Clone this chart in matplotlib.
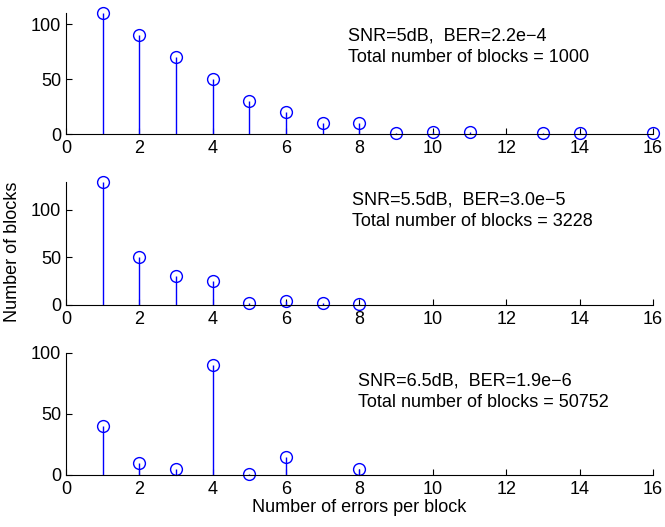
import matplotlib.pyplot as plt

plt.rcParams['font.family'] = ['Liberation Sans', 'DejaVu Sans']

# errors per block -> number of blocks, one list pair per SNR
errs_5dB = [1, 2, 3, 4, 5, 6, 7, 8, 9, 10, 11, 13, 14, 16]
blocks_5dB = [110, 90, 70, 50, 30, 20, 10, 10, 1, 2, 2, 1, 1, 1]

errs_55dB = [1, 2, 3, 4, 5, 6, 7, 8]
blocks_55dB = [129, 50, 30, 25, 2, 4, 2, 1]

errs_65dB = [1, 2, 3, 4, 5, 6, 8]
blocks_65dB = [40, 10, 5, 90, 1, 15, 5]

snr_labels = ["SNR=5dB,  BER=2.2e\u22124",
              "SNR=5.5dB,  BER=3.0e\u22125",
              "SNR=6.5dB,  BER=1.9e\u22126"]
total_labels = ["Total number of blocks = 1000",
                "Total number of blocks = 3228",
                "Total number of blocks = 50752"]
ytops = [110, 129, 100]

fig = plt.figure(figsize=(6.65, 5.27), dpi=100)
rects = [
    [0.0992, 0.7457, 0.8827, 0.2296],
    [0.0992, 0.4213, 0.8827, 0.2334],
    [0.0992, 0.0987, 0.8827, 0.2315],
]
# x, y of first line, y of second line (axes fraction)
text_pos = [(0.4804, 0.81, 0.636), (0.487, 0.854, 0.675), (0.4974, 0.77, 0.598)]
data = [(errs_5dB, blocks_5dB), (errs_55dB, blocks_55dB), (errs_65dB, blocks_65dB)]
fs = 13

for i, (x, y) in enumerate(data):
    ax = fig.add_axes(rects[i])
    ml, sl, bl = ax.stem(x, y, linefmt='b-', markerfmt='bo', basefmt=' ')
    ml.set_markerfacecolor('none')
    ml.set_markersize(8.5)
    ml.set_markeredgewidth(1)
    ml.set_clip_on(False)
    sl.set_linewidth(1)
    ax.set_xlim(0, 16)
    ax.set_ylim(0, ytops[i])
    ax.set_xticks(range(0, 17, 2))
    ax.set_yticks([0, 50, 100])
    ax.spines['top'].set_visible(False)
    ax.spines['right'].set_visible(False)
    ax.tick_params(direction='in', length=4, labelsize=fs)
    ax.tick_params(axis='x', pad=4)
    tx, ty1, ty2 = text_pos[i]
    ax.text(tx, ty1, snr_labels[i], transform=ax.transAxes, fontsize=fs, va='center', ha='left')
    ax.text(tx, ty2, total_labels[i], transform=ax.transAxes, fontsize=fs, va='center', ha='left')
    if i == 1:
        ax.set_ylabel("Number of blocks", fontsize=fs)
        ax.yaxis.set_label_coords(-0.077, 0.43)
    if i == 2:
        ax.set_xlabel("Number of errors per block", fontsize=fs, labelpad=1)

plt.savefig('out.png', dpi=100)
plt.close()
